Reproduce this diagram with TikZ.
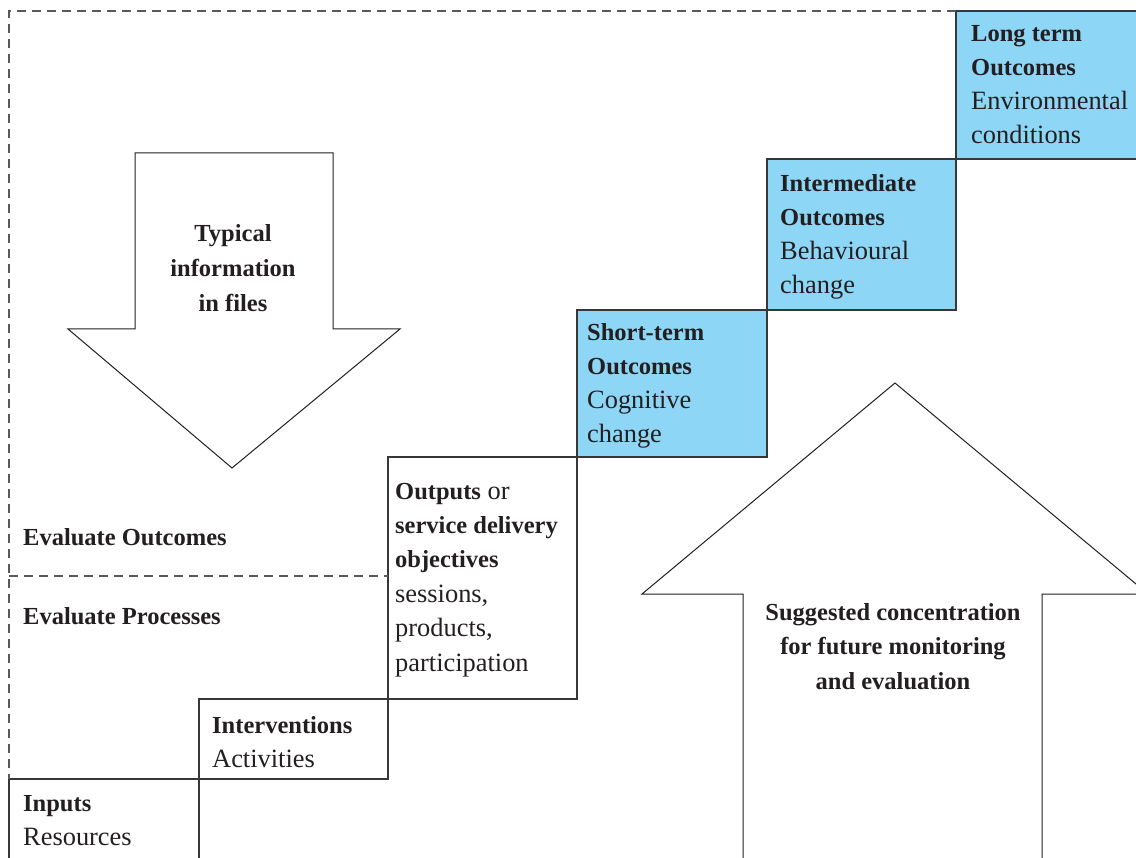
\documentclass[tikz,border=0pt]{standalone}
\usepackage{fontspec}
\setmainfont{Liberation Serif}
\definecolor{boxblue}{RGB}{142,214,246}
\definecolor{ink}{RGB}{35,31,32}
\definecolor{edgegray}{RGB}{55,55,55}
\newcommand\Bf{\fontsize{24.5}{34}\selectfont\bfseries}
\newcommand\Rg{\fontsize{26.4}{34}\selectfont\mdseries}
\begin{document}
\begin{tikzpicture}[x=1pt,y=-1pt,
  stepbox/.style={draw=edgegray, line width=1.3pt, anchor=north west, inner sep=0pt, outer sep=0pt},
  bluebox/.style={stepbox, fill=boxblue},
  lbl/.style={anchor=base west, align=left, inner sep=0pt, text=ink, font=\Rg},
  bigarrow/.style={draw=ink, line width=1pt},
  guide/.style={draw=black!65, dash pattern=on 9pt off 6pt, line width=1.2pt},
  bigtext/.style={align=center, inner sep=0pt, text=ink, font=\fontsize{24.5}{34.5}\selectfont\bfseries, anchor=base}]
\useasboundingbox (0,0) rectangle (1136,858);
\clip (0,0) rectangle (1136,858);

% step boxes
\coordinate (tl) at (9,11);
\coordinate (midl) at (9,576);
\node[stepbox, minimum width=190pt, minimum height=100pt] (inputs) at (9,779) {};
\node[stepbox, minimum width=189pt, minimum height=80pt] (interv) at (199,699) {};
\node[stepbox, minimum width=189pt, minimum height=242pt] (outputs) at (388,457) {};
\node[bluebox, minimum width=190pt, minimum height=147pt] (short) at (577,310) {};
\node[bluebox, minimum width=189pt, minimum height=151pt] (inter) at (767,159) {};
\node[bluebox, minimum width=200pt, minimum height=148pt] (long) at (956,11) {};
\coordinate (midr) at (outputs.north west |- midl);

% dashed guides
\draw[guide] (long.north west) -- (tl) -- (inputs.north west);
\draw[guide] (midl) -- (midr);

% big arrows
\draw[bigarrow] (135,153) -- (333,153) -- (333,329) -- (400,329) -- (232,468) -- (68,329) -- (135,329) -- cycle;
\draw[bigarrow] (743,870) -- (743,594) -- (642,594) -- (895,383) -- (1148,594) -- (1042,594) -- (1042,870);

% labels (anchored at the baseline of their last line)
\node[lbl] (longtxt) at (971,144) {{\Bf Long term}\\{\Bf Outcomes}\\Environmental\\conditions};
\node[lbl] (intertxt) at (780,294) {{\Bf Intermediate}\\{\Bf Outcomes}\\Behavioural\\change};
\node[lbl] (shorttxt) at (587,443) {{\Bf Short-term}\\{\Bf Outcomes}\\Cognitive\\change};
\node[lbl, font=\fontsize{26.4}{34.4}\selectfont] (outtxt) at (395,671) {{\Bf Outputs} or\\{\Bf service delivery}\\{\Bf objectives}\\sessions,\\products,\\participation};
\node[lbl] (intvtxt) at (212,767) {{\Bf Interventions}\\Activities};
\node[lbl] (inptxt) at (23,845) {{\Bf Inputs}\\Resources};
\node[lbl, font=\Bf] (evalout) at (23,546) {Evaluate Outcomes};
\node[lbl, font=\Bf] (evalproc) at (23,624) {Evaluate Processes};
\node[bigtext, font=\fontsize{24.5}{35}\selectfont\bfseries] (typical) at (233,312) {Typical\\information\\in files};
\node[bigtext] (suggest) at (893,689) {Suggested concentration\\for future monitoring\\and evaluation};
\end{tikzpicture}
\end{document}
